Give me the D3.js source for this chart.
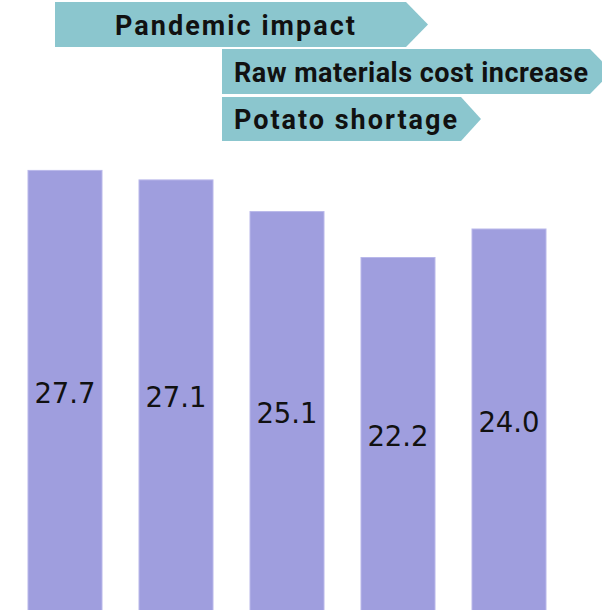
<!DOCTYPE html>
<html>
<head>
<meta charset="utf-8">
<script src="https://cdn.jsdelivr.net/npm/d3@7"></script>
<style>
  html, body { margin: 0; padding: 0; background: #ffffff; }
  svg { display: block; }
</style>
</head>
<body>
<script>
// Bar values per period (no axis labels are drawn)
const categories = ["P1", "P2", "P3", "P4", "P5"];
const values = [27.7, 27.1, 25.1, 22.2, 24.0];

// Event banners shown above the bars
const bannerLabels = ["Pandemic impact", "Raw materials cost increase", "Potato shortage"];

const W = 602, H = 610;

// Layout of each banner: left edge, shoulder of the arrow, tip, top, bottom, text start, text width
const bannerLayout = [
  { x0: 55,  x1: 406, tip: 428, y0: 2,  y1: 47,  tx: 115, tw: 240 },
  { x0: 222, x1: 590, tip: 612, y0: 49, y1: 94,  tx: 234, tw: 354 },
  { x0: 222, x1: 461, tip: 481, y0: 97, y1: 141, tx: 234, tw: 223 }
];

const svg = d3.select("body").append("svg")
  .attr("width", W)
  .attr("height", H);

const x = d3.scaleBand()
  .domain(categories)
  .range([28, 546])
  .paddingInner(1 / 3)
  .paddingOuter(0);

const y = d3.scaleLinear()
  .domain([0, 30])
  .range([609, 134]);

// Bars
const bars = svg.append("g").attr("class", "bars");
bars.selectAll("rect")
  .data(values)
  .join("rect")
  .attr("x", (d, i) => x(categories[i]))
  .attr("y", d => y(d))
  .attr("width", x.bandwidth())
  .attr("height", d => y(0) - y(d) + 2)
  .attr("fill", "#9F9EDE")
  .attr("stroke", "#B9B8EA")
  .attr("stroke-width", 1);

// Value labels, centred in each bar
bars.selectAll("text")
  .data(values)
  .join("text")
  .attr("x", (d, i) => x(categories[i]) + x.bandwidth() / 2)
  .attr("y", d => (y(d) + y(0)) / 2 + 13)
  .attr("text-anchor", "middle")
  .attr("font-family", "'DejaVu Sans', sans-serif")
  .attr("font-size", 27.5)
  .attr("fill", "#111111")
  .text(d => d.toFixed(1));

// Arrow-shaped banners
const banners = svg.append("g").attr("class", "banners");
const bannerData = bannerLabels.map((label, i) => ({ label, ...bannerLayout[i] }));

banners.selectAll("path")
  .data(bannerData)
  .join("path")
  .attr("d", b => {
    const p = d3.path();
    const ym = (b.y0 + b.y1) / 2;
    p.moveTo(b.x0, b.y0);
    p.lineTo(b.x1, b.y0);
    p.lineTo(b.tip, ym);
    p.lineTo(b.x1, b.y1);
    p.lineTo(b.x0, b.y1);
    p.closePath();
    return p.toString();
  })
  .attr("fill", "#8BC6CE");

const baseSize = 27;
const bannerText = banners.selectAll("text")
  .data(bannerData)
  .join("text")
  .attr("x", b => b.tx)
  .attr("y", b => (b.y0 + b.y1) / 2 + 10)
  .attr("font-family", "Roboto, 'Noto Sans', sans-serif")
  .attr("font-weight", "bold")
  .attr("font-size", baseSize)
  .attr("fill", "#111111")
  .text(b => b.label);

// Shrink the shared font size so every label fits its slot, then spread to width
let ratio = 1;
bannerText.each(function (b) {
  const w = this.getComputedTextLength();
  ratio = Math.min(ratio, b.tw / w);
});
bannerText.attr("font-size", baseSize * ratio);
bannerText.each(function (b) {
  const w = this.getComputedTextLength();
  if (w < b.tw) d3.select(this).attr("textLength", b.tw).attr("lengthAdjust", "spacing");
});
</script>
</body>
</html>
